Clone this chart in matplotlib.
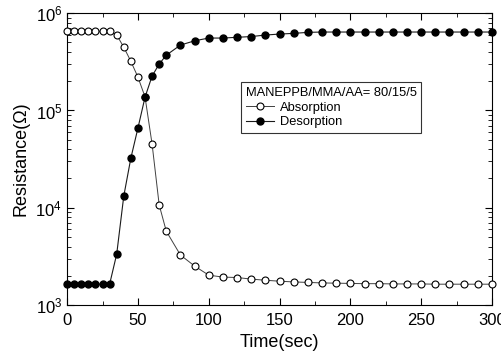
import matplotlib
matplotlib.use("Agg")
import matplotlib.pyplot as plt
import numpy as np
from matplotlib.ticker import LogLocator, MultipleLocator

plt.rcParams['font.family'] = ['Liberation Sans', 'DejaVu Sans']
plt.rcParams['mathtext.fontset'] = 'custom'
plt.rcParams['mathtext.rm'] = 'Liberation Sans'

# time points (sec)
t = [0, 5, 10, 15, 20, 25, 30, 35, 40, 45, 50, 55, 60, 65, 70, 80, 90,
     100, 110, 120, 130, 140, 150, 160, 170, 180, 190, 200, 210, 220,
     230, 240, 250, 260, 270, 280, 290, 300]

absorption = [6.5e5, 6.5e5, 6.5e5, 6.5e5, 6.5e5, 6.5e5, 6.5e5, 5.96e5,
              4.47e5, 3.2e5, 2.2e5, 1.38e5, 4.5e4, 1.07e4, 5.75e3, 3.27e3,
              2.52e3, 2.03e3, 1.94e3, 1.92e3, 1.85e3, 1.8e3, 1.76e3, 1.73e3,
              1.71e3, 1.69e3, 1.68e3, 1.67e3, 1.66e3, 1.66e3, 1.65e3, 1.65e3,
              1.65e3, 1.64e3, 1.64e3, 1.64e3, 1.64e3, 1.64e3]

desorption = [1.64e3, 1.64e3, 1.64e3, 1.64e3, 1.64e3, 1.64e3, 1.64e3, 3.34e3,
              1.32e4, 3.24e4, 6.6e4, 1.37e5, 2.26e5, 3.0e5, 3.7e5, 4.7e5,
              5.2e5, 5.55e5, 5.55e5, 5.65e5, 5.75e5, 5.96e5, 6.1e5, 6.2e5,
              6.35e5, 6.4e5, 6.4e5, 6.4e5, 6.4e5, 6.4e5, 6.4e5, 6.4e5,
              6.4e5, 6.4e5, 6.4e5, 6.4e5, 6.4e5, 6.4e5]

fig = plt.figure(figsize=(5.01, 3.56), dpi=100)
ax = fig.add_axes([0.134, 0.143, 0.848, 0.82])

ax.plot(t, absorption, color='0.25', lw=0.7, marker='o', ms=5,
        mfc='white', mec='black', mew=0.8, label='Absorption', clip_on=False, zorder=3)
ax.plot(t, desorption, color='0.1', lw=0.8, marker='o', ms=5,
        mfc='black', mec='black', label='Desorption', clip_on=False, zorder=3)

ax.set_yscale('log')
ax.set_xlim(0, 300)
ax.set_ylim(1e3, 1e6)
ax.xaxis.set_major_locator(MultipleLocator(50))
ax.xaxis.set_minor_locator(MultipleLocator(25))
ax.yaxis.set_major_locator(LogLocator(base=10))
ax.yaxis.set_minor_locator(LogLocator(base=10, subs=np.arange(2, 10)))
ax.tick_params(which='both', direction='in', top=True, right=True, labelsize=12)
ax.tick_params(which='major', length=5)
ax.tick_params(which='minor', length=3)
ax.tick_params(axis='x', pad=6)

ax.set_xlabel('Time(sec)', fontsize=13)
ax.set_ylabel('Resistance(\u03a9)', fontsize=13)

leg = ax.legend(title='MANEPPB/MMA/AA= 80/15/5', loc='upper left',
                bbox_to_anchor=(0.395, 0.785), frameon=True, fancybox=False,
                fontsize=9.3, title_fontsize=9.3, handlelength=2.2,
                borderpad=0.35, labelspacing=0.2, handletextpad=0.4)
leg.get_frame().set_edgecolor('black')
leg.get_frame().set_linewidth(0.8)
leg._legend_box.align = 'left'

fig.savefig('out.png', dpi=100)
